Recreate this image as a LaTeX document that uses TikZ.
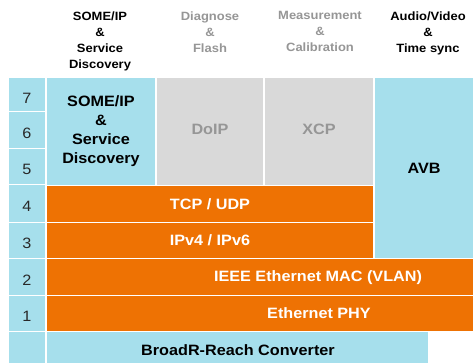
\documentclass[tikz,border=0pt]{standalone}
\usepackage{fontspec}
\setmainfont{Liberation Sans}
\newfontfamily\labfont[FakeStretch=1.08]{Liberation Sans}
\definecolor{lblue}{RGB}{166,223,236}
\definecolor{lgray}{RGB}{217,217,217}
\definecolor{orng}{RGB}{238,114,3}
\definecolor{gtext}{RGB}{150,150,150}
\definecolor{dtext}{RGB}{40,40,40}
\begin{document}
\begin{tikzpicture}[x=1pt,y=-1pt,
  cell/.style={anchor=north west,inner sep=0pt,outer sep=0pt,draw=none},
  bluebox/.style={cell,fill=lblue},
  graybox/.style={cell,fill=lgray},
  orbox/.style={cell,fill=orng},
  numtxt/.style={font=\labfont\fontsize{15}{18}\selectfont,text=dtext},
  boxtxt/.style={font=\labfont\bfseries\fontsize{15}{19}\selectfont,align=center},
  headtxt/.style={font=\labfont\bfseries\fontsize{12}{16}\selectfont,align=center,anchor=north},
]
\useasboundingbox (0,0) rectangle (473,363);
\fill[white] (0,0) rectangle (473,363);

% headers
\node[headtxt,text=black] (h1) at (100,8) {SOME/IP\\\&\\Service\\Discovery};
\node[headtxt,text=gtext] (h2) at (210,8) {Diagnose\\\&\\Flash};
\node[headtxt,text=gtext] (h3) at (320,8) {Measurement\\\&\\Calibration};
\node[headtxt,text=black] (h4) at (428,8) {Audio/Video\\\&\\Time sync};

% layer number column
\node[bluebox,minimum width=36,minimum height=33] (c7) at (9,78) {};
\node[bluebox,minimum width=36,minimum height=36] (c6) at (9,112) {};
\node[bluebox,minimum width=36,minimum height=35] (c5) at (9,149) {};
\node[bluebox,minimum width=36,minimum height=37] (c4) at (9,185) {};
\node[bluebox,minimum width=36,minimum height=35] (c3) at (9,223) {};
\node[bluebox,minimum width=36,minimum height=36] (c2) at (9,259) {};
\node[bluebox,minimum width=36,minimum height=35] (c1) at (9,296) {};
\node[bluebox,minimum width=36,minimum height=32] (c0) at (9,332) {};
\node[numtxt] (n7) at ([yshift=-4]c7.center) {7};
\node[numtxt] (n6) at ([yshift=-3]c6.center) {6};
\node[numtxt] (n5) at ([yshift=-3]c5.center) {5};
\node[numtxt] (n4) at ([yshift=-3]c4.center) {4};
\node[numtxt] (n3) at ([yshift=-3]c3.center) {3};
\node[numtxt] (n2) at ([yshift=-3]c2.center) {2};
\node[numtxt] (n1) at ([yshift=-3]c1.center) {1};

% upper layers
\node[bluebox,minimum width=108,minimum height=107] (some) at (47,78) {};
\node[boxtxt,text=black] (somet) at (some.center) {SOME/IP\\\&\\Service\\Discovery};
\node[graybox,minimum width=106,minimum height=107] (doip) at (157,78) {};
\node[boxtxt,text=gtext] (doipt) at ([yshift=2]doip.center) {DoIP};
\node[graybox,minimum width=108,minimum height=107] (xcp) at (265,78) {};
\node[boxtxt,text=gtext] (xcpt) at ([yshift=2]xcp.center) {XCP};
\node[bluebox,minimum width=98,minimum height=180] (avb) at (375,78) {};
\node[boxtxt,text=black] (avbt) at (avb.center) {AVB};

% transport / network
\node[orbox,minimum width=326,minimum height=36] (tcp) at (47,186) {};
\node[boxtxt,text=white] (tcpt) at (tcp.center) {TCP / UDP};
\node[orbox,minimum width=326,minimum height=35] (ip) at (47,223) {};
\node[boxtxt,text=white] (ipt) at (ip.center) {IPv4 / IPv6};

% link / physical
\node[orbox,minimum width=426,minimum height=36] (mac) at (47,259) {};
\node[boxtxt,text=white] (mact) at (318,278) {IEEE Ethernet MAC (VLAN)};
\node[orbox,minimum width=426,minimum height=35] (phy) at (47,296) {};
\node[boxtxt,text=white] (phyt) at (319,313) {Ethernet PHY};
\node[bluebox,minimum width=381,minimum height=32] (brr) at (47,332) {};
\node[boxtxt,text=black] (brrt) at (238,350) {BroadR-Reach Converter};
\end{tikzpicture}
\end{document}
